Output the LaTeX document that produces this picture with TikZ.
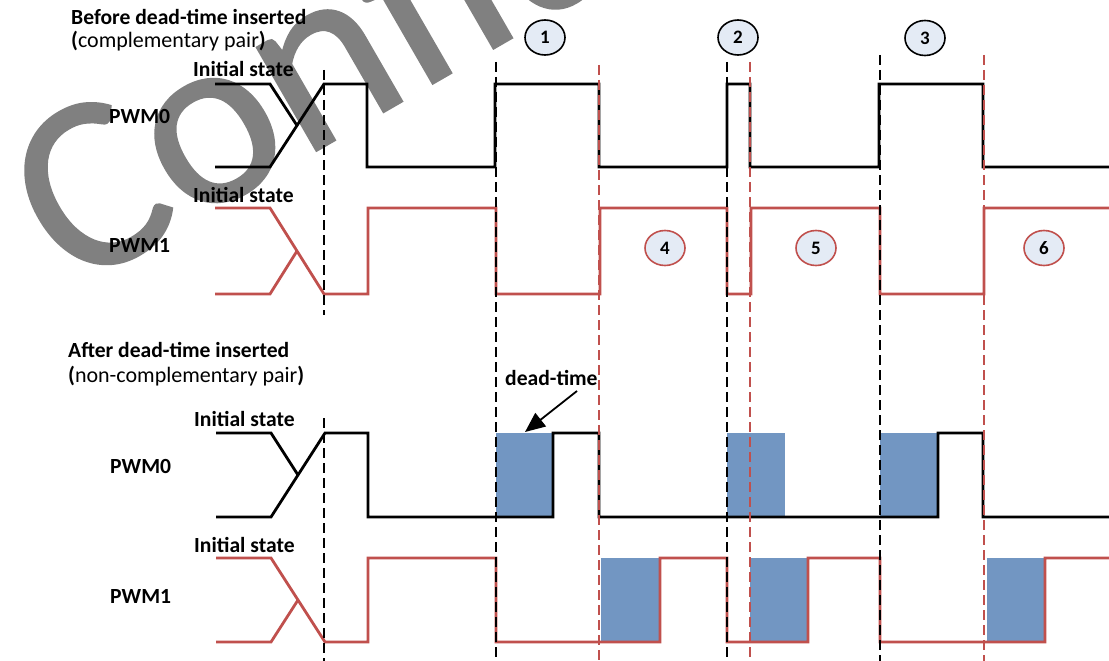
\documentclass[tikz,border=0pt]{standalone}
\usepackage{fontspec}
\setmainfont{Carlito}
\newfontfamily\wmfont[FakeBold=0.8]{Carlito}
\usetikzlibrary{arrows.meta,shapes.geometric}
\definecolor{wred}{HTML}{C0504D}
\definecolor{wblue}{HTML}{7296C2}
\definecolor{cfill}{HTML}{E4EBF5}
\definecolor{wmgray}{HTML}{808080}
\tikzset{
  sigk/.style={line width=2.8pt, black},
  sigr/.style={line width=2.8pt, wred},
  vdk/.style={line width=1.7pt, black, dash pattern=on 10pt off 5pt},
  vdr/.style={line width=1.7pt, wred, dash pattern=on 10pt off 5pt},
  dtbox/.style={fill=wblue, draw=none},
  lbl/.style={anchor=base west, inner sep=0pt, font=\bfseries\fontsize{21.6}{24}\selectfont},
  lblr/.style={anchor=base west, inner sep=0pt, font=\fontsize{22}{24}\selectfont},
  numk/.style={ellipse, draw=black, fill=cfill, line width=1.6pt, minimum width=40pt, minimum height=35pt, inner sep=0pt, font=\bfseries\fontsize{19}{19}\selectfont},
  numr/.style={numk, draw=wred},
  wm/.style={anchor=base west, inner sep=0pt, text=wmgray, font=\wmfont\fontsize{250}{250}\selectfont}
}
\begin{document}
\begin{tikzpicture}[x=1pt,y=-1pt]
\useasboundingbox (0,0) rectangle (1109,661);
% watermark
\node[wm, rotate=30] (wmark) at (72,292) {Confidential};

% texts
\node[lbl] (t1) at (71,25) {Before dead-time inserted};
\node[lblr] (t2) at (71,48) {{\bfseries(}complementary pair{\bfseries)}};
\node[lbl] (is1) at (193,77) {Initial state};
\node[lbl] (pwm0a) at (109,123) {PWM0};
\node[lbl] (is2) at (193,202) {Initial state};
\node[lbl] (pwm1a) at (109,252) {PWM1};
\node[lbl] (t3) at (68,357) {After dead-time inserted};
\node[lblr] (t4) at (68,382) {{\bfseries(}non-complementary pair{\bfseries)}};
\node[lbl] (is3) at (194,426) {Initial state};
\node[lbl] (pwm0b) at (110,473) {PWM0};
\node[lbl] (is4) at (194,552) {Initial state};
\node[lbl] (pwm1b) at (110,603) {PWM1};

% dead-time boxes
\fill[dtbox] (496,433) rectangle (553,517);
\fill[dtbox] (727,433) rectangle (785,517);
\fill[dtbox] (880,433) rectangle (938,517);
\fill[dtbox] (601,558) rectangle (660,642);
\fill[dtbox] (750,558) rectangle (808,642);
\fill[dtbox] (987,558) rectangle (1045,642);

% before: PWM0
\draw[sigk] (215,84) -- (270,84) -- (297,125.5);
\draw[sigk] (215,167) -- (270,167) -- (324,84) -- (367,84) -- (367,167) -- (495,167) -- (495,84) -- (599,84) -- (599,167) -- (727,167) -- (727,84) -- (750,84) -- (750,167) -- (879,167) -- (879,84) -- (983,84) -- (983,167) -- (1109,167);
% before: PWM1
\draw[sigr] (215,294) -- (270,294) -- (297,251);
\draw[sigr] (215,208) -- (270,208) -- (324,294) -- (368,294) -- (368,208) -- (496,208) -- (496,294) -- (600,294) -- (600,208) -- (727,208) -- (727,294) -- (751,294) -- (751,208) -- (880,208) -- (880,294) -- (984,294) -- (984,208) -- (1109,208);

% after: PWM0
\draw[sigk] (216,433) -- (271,433) -- (298,475);
\draw[sigk] (216,517) -- (271,517) -- (325,433) -- (368,433) -- (368,517) -- (553,517) -- (553,433) -- (599,433) -- (599,517) -- (938,517) -- (938,433) -- (983,433) -- (983,517) -- (1109,517);
% after: PWM1
\draw[sigr] (216,642) -- (271,642) -- (298,600);
\draw[sigr] (216,558) -- (271,558) -- (325,642) -- (368,642) -- (368,558) -- (496,558) -- (496,642) -- (660,642) -- (660,558) -- (727,558) -- (727,642) -- (808,642) -- (808,558) -- (880,558) -- (880,642) -- (1045,642) -- (1045,558) -- (1109,558);

% vertical dashed markers
\draw[vdk] (324,70) -- (324,315);
\draw[vdk] (324,418) -- (324,661);
\draw[vdk] (496,62) -- (496,661);
\draw[vdk] (727,62) -- (727,661);
\draw[vdk] (880,55) -- (880,661);
\draw[vdr] (599,65) -- (599,661);
\draw[vdr] (750,62) -- (750,661);
\draw[vdr] (984,55) -- (984,661);

% numbered markers
\node[numk] (c1) at (545,37.5) {1};
\node[numk] (c2) at (738,37.5) {2};
\node[numk] (c3) at (925,38) {3};
\node[numr] (c4) at (665,248) {4};
\node[numr] (c5) at (816,248) {5};
\node[numr] (c6) at (1044,248) {6};

% dead-time label and arrow
\node[lbl] (dt) at (505,385) {dead-time};
\coordinate (dtstart) at (577,391);
\coordinate (dttip) at (525,432);
\draw[line width=1.8pt, -{Triangle[length=20pt,width=17pt]}] (dtstart) -- (dttip);
\end{tikzpicture}
\end{document}
